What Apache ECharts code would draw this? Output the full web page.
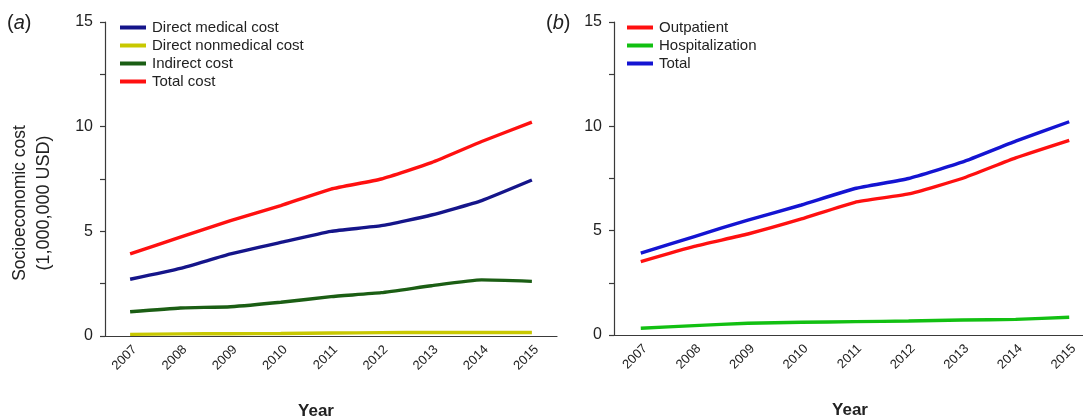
<!DOCTYPE html>
<html>
<head>
<meta charset="utf-8">
<script src="https://cdn.jsdelivr.net/npm/echarts@6/dist/echarts.min.js"></script>
<style>
  html, body { margin: 0; padding: 0; background: #fff; }
  #chart { width: 1083px; height: 420px; }
</style>
</head>
<body>
<div id="chart"></div>
<script>
// Years on the horizontal axis
const years = ['2007', '2008', '2009', '2010', '2011', '2012', '2013', '2014', '2015'];

// Panel (a): cost components, million USD
const directMedical    = [2.71, 3.23, 3.92, 4.47, 5.00, 5.27, 5.78, 6.47, 7.45];
const directNonmedical = [0.08, 0.10, 0.11, 0.12, 0.14, 0.16, 0.17, 0.17, 0.17];
const indirectCost     = [1.16, 1.34, 1.40, 1.61, 1.88, 2.07, 2.40, 2.68, 2.61];
const totalCost        = [3.92, 4.72, 5.51, 6.23, 7.02, 7.50, 8.28, 9.29, 10.22];

// Panel (b): direct medical cost by setting, million USD
const outpatient      = [3.52, 4.25, 4.84, 5.56, 6.36, 6.76, 7.50, 8.49, 9.33];
const hospitalization = [0.32, 0.45, 0.56, 0.61, 0.64, 0.67, 0.72, 0.75, 0.85];
const totalB          = totalCost;

// Y-axis tick values (labels shown on multiples of 5)
const yTicks = [0, 5, 10, 15];

const FONT = 'Liberation Sans, Arial, sans-serif';
const axisColor = '#3a3a3a';
const textColor = '#222';

function xAxisCfg(gridIndex, nameShift) {
  return {
    type: 'category',
    gridIndex: gridIndex,
    data: years,
    boundaryGap: true,
    name: 'Year',
    nameLocation: 'middle',
    nameGap: 67,
    nameTextStyle: {
      fontFamily: FONT, fontSize: 17, fontWeight: 'bold', color: textColor,
      padding: [0, nameShift * 2, 0, 0]
    },
    axisLine: { lineStyle: { color: axisColor, width: 1.2 } },
    axisTick: { alignWithLabel: true, length: 5, lineStyle: { color: axisColor, width: 1.2 } },
    axisLabel: {
      rotate: 45, fontFamily: FONT, fontSize: 13, color: textColor, margin: 7,
      verticalAlign: 'top'
    }
  };
}

function yAxisCfg(gridIndex) {
  return {
    type: 'value',
    gridIndex: gridIndex,
    min: 0,
    max: 15,
    interval: 2.5,
    splitLine: { show: false },
    axisLine: { show: true, lineStyle: { color: axisColor, width: 1.2 } },
    axisTick: { show: true, length: 5, lineStyle: { color: axisColor, width: 1.2 } },
    axisLabel: {
      fontFamily: FONT, fontSize: 16, color: textColor, margin: 12,
      formatter: v => (yTicks.indexOf(v) >= 0 ? String(v) : '')
    }
  };
}

function lineSeries(name, data, color, idx) {
  return {
    name: name,
    type: 'line',
    xAxisIndex: idx,
    yAxisIndex: idx,
    data: data,
    smooth: 0.15,
    symbol: 'none',
    lineStyle: { color: color, width: 3.4 },
    itemStyle: { color: color }
  };
}

const c = {
  medical: '#15158a',
  nonmedical: '#c8c800',
  indirect: '#1b5e14',
  total: '#ff1010',
  outpatient: '#ff1010',
  hosp: '#12c012',
  totalB: '#1414d2'
};

const legendBase = {
  orient: 'vertical',
  icon: 'rect',
  itemWidth: 26,
  itemHeight: 4,
  itemGap: 3,
  textStyle: { fontFamily: FONT, fontSize: 15, color: textColor, padding: [0, 0, 0, 1] }
};

const panelLabel = (letter, left) => ({
  type: 'text', left: left, top: 13,
  style: {
    text: '({i|' + letter + '})', fontFamily: FONT, fontSize: 20, fill: textColor,
    rich: { i: { fontFamily: FONT, fontSize: 20, fontStyle: 'italic', fill: textColor } }
  }
});

const option = {
  animation: false,
  backgroundColor: '#fff',
  grid: [
    { left: 105, width: 452, top: 22, bottom: 84, outerBoundsMode: 'none', containLabel: false },
    { left: 614, width: 482, top: 22, bottom: 85, outerBoundsMode: 'none', containLabel: false }
  ],
  xAxis: [xAxisCfg(0, 15), xAxisCfg(1, 5)],
  yAxis: [yAxisCfg(0), yAxisCfg(1)],
  legend: [
    Object.assign({}, legendBase, {
      left: 115, top: 15,
      data: ['Direct medical cost', 'Direct nonmedical cost', 'Indirect cost', 'Total cost']
    }),
    Object.assign({}, legendBase, {
      left: 622, top: 15,
      data: ['Outpatient', 'Hospitalization', 'Total']
    })
  ],
  graphic: [
    panelLabel('a', 7),
    panelLabel('b', 546),
    {
      type: 'text',
      x: 20, y: 203, rotation: Math.PI / 2,
      style: {
        text: 'Socioeconomic cost', fontFamily: FONT, fontSize: 17.5, fill: textColor,
        align: 'center', verticalAlign: 'middle'
      }
    },
    {
      type: 'text',
      x: 44, y: 203, rotation: Math.PI / 2,
      style: {
        text: '(1,000,000 USD)', fontFamily: FONT, fontSize: 18, fill: textColor,
        align: 'center', verticalAlign: 'middle'
      }
    }
  ],
  series: [
    lineSeries('Direct nonmedical cost', directNonmedical, c.nonmedical, 0),
    lineSeries('Indirect cost', indirectCost, c.indirect, 0),
    lineSeries('Direct medical cost', directMedical, c.medical, 0),
    lineSeries('Total cost', totalCost, c.total, 0),
    lineSeries('Hospitalization', hospitalization, c.hosp, 1),
    lineSeries('Outpatient', outpatient, c.outpatient, 1),
    lineSeries('Total', totalB, c.totalB, 1)
  ]
};

const chart = echarts.init(document.getElementById('chart'), null, { renderer: 'canvas' });
chart.setOption(option);
</script>
</body>
</html>
